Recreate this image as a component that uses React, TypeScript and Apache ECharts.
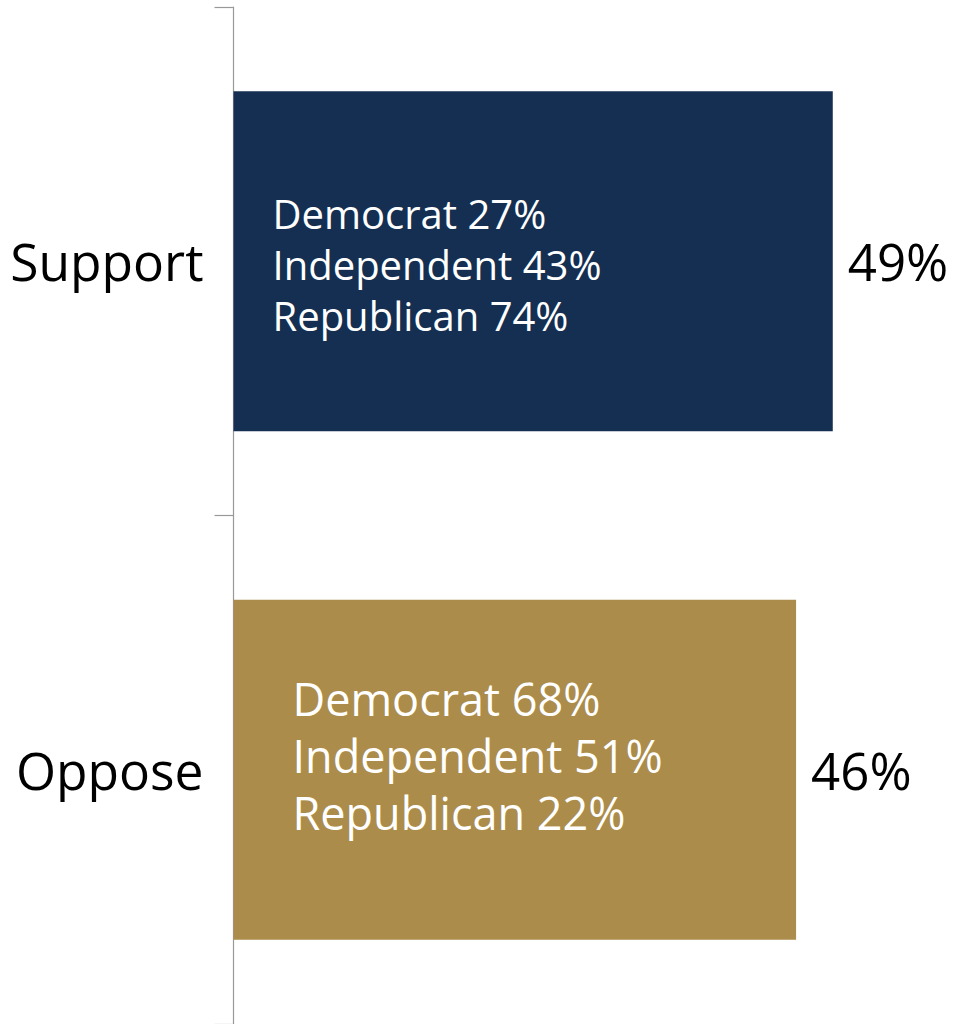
import React, { useEffect, useRef } from "react";
import * as echarts from "echarts";

const categories = ["Support", "Oppose"];
const totals = [49, 46];
const democrat = [27, 68];
const independent = [43, 51];
const republican = [74, 22];
const barColors = ["#142F51", "#AC8C4A"];

const FONT = "'Open Sans', 'Noto Sans', sans-serif";

export default function App() {
  const ref = useRef<HTMLDivElement>(null);
  useEffect(() => {
    if (!ref.current) return;
    const chart = echarts.init(ref.current, null, { renderer: "svg" });
    const innerStyles = [
      { fontSize: 40, lineHeight: 51, offset: [34, 3] },
      { fontSize: 45, lineHeight: 57, offset: [54, -14] },
    ];
    chart.setOption({
      animation: false,
      grid: { left: 233.5, right: 108, top: 7, bottom: -1, containLabel: false },
      xAxis: { type: "value", min: 0, max: 50, show: false },
      yAxis: {
        type: "category",
        data: categories,
        inverse: true,
        axisLine: { show: true, lineStyle: { color: "#999999", width: 1.2 } },
        axisTick: { show: true, length: 19, lineStyle: { color: "#999999", width: 1.2 } },
        axisLabel: { fontFamily: FONT, fontSize: 51.5, color: "#000000", margin: 30 },
        splitLine: { show: false },
      },
      series: [
        {
          type: "bar",
          barWidth: 340,
          data: totals.map((v, i) => ({
            value: v,
            itemStyle: { color: barColors[i] },
            label: {
              show: true,
              position: "insideLeft",
              offset: innerStyles[i].offset,
              fontSize: innerStyles[i].fontSize,
              lineHeight: innerStyles[i].lineHeight,
              fontFamily: FONT,
              color: "#ffffff",
              align: "left",
              formatter: () =>
                `Democrat ${democrat[i]}%\nIndependent ${independent[i]}%\nRepublican ${republican[i]}%`,
            },
          })),
        },
        {
          type: "bar",
          barWidth: 340,
          barGap: "-100%",
          itemStyle: { color: "rgba(0,0,0,0)" },
          silent: true,
          label: {
            show: true,
            position: "right",
            distance: 15,
            fontFamily: FONT,
            fontSize: 51,
            color: "#000000",
            formatter: (p: any) => `${p.value}%`,
          },
          data: totals,
        },
      ],
    });
    return () => chart.dispose();
  }, []);
  return (
    <div
      ref={ref}
      style={{ position: "fixed", left: 0, top: 0, width: 953, height: 1024, background: "#fff" }}
    />
  );
}
